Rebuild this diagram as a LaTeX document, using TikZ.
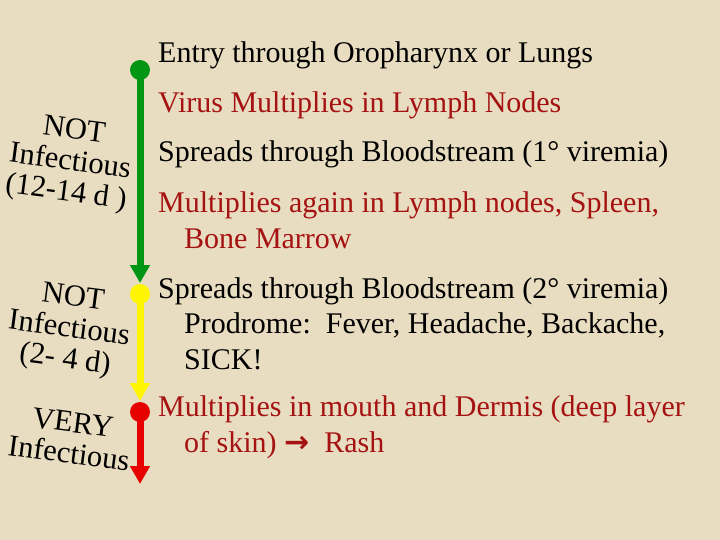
\documentclass[tikz,border=0pt]{standalone}
\usepackage{fontspec}
\setmainfont{Liberation Serif}
\newfontfamily\arrowfont{DejaVu Sans}
\usetikzlibrary{arrows.meta,positioning}
\definecolor{parchment}{RGB}{233,221,193}
\definecolor{darkred}{RGB}{165,18,18}
\definecolor{phasegreen}{RGB}{0,150,20}
\definecolor{phaseyellow}{RGB}{255,245,0}
\definecolor{phasered}{RGB}{230,0,0}
\tikzset{
	dot/.style = {circle, fill=#1, inner sep=0pt, minimum size=20pt},
	phase/.style = {draw=#1, line width=7pt, -{Triangle[length=18pt,width=19pt]}},
	event/.style = {anchor=base west, inner sep=0pt, align=left, font=\fontsize{30}{35.5}\selectfont},
	tag/.style = {rotate=-7.5, align=center, inner sep=0pt, font=\fontsize{30.5}{31}\selectfont},
	coord/.style = {coordinate}
}

\begin{document}
\begin{tikzpicture}[x=1pt,y=-1pt]
		\fill [parchment] (0,0) rectangle (720,540);
		\useasboundingbox (0,0) rectangle (720,540);
		% timeline
		\node [dot=phasegreen] (entry) at (140,70) {};
		\node [coord] (greenend) at (140,283) {};
		\node [dot=phaseyellow] (spread) at (140,294) {};
		\node [coord] (yellowend) at (140,401) {};
		\node [dot=phasered] (mouth) at (140,412) {};
		\node [coord] (redend) at (140,484) {};
		\draw [phase=phasegreen] (entry.center) -- (greenend);
		\draw [phase=phaseyellow] (spread.center) -- (yellowend);
		\draw [phase=phasered] (mouth.center) -- (redend);
		% events (base = last line)
		\node [event] (e1) at (158,63) {Entry through Oropharynx or Lungs};
		\node [event, darkred] (e2) at (158,113) {Virus Multiplies in Lymph Nodes};
		\node [event] (e3) at (158,162) {Spreads through Bloodstream (1\textdegree\ viremia)};
		\node [event, darkred] (e4) at (158,248) {Multiplies again in Lymph nodes, Spleen,\\\hspace*{26pt}Bone Marrow};
		\node [event] (e5) at (158,369) {Spreads through Bloodstream (2\textdegree\ viremia)\\\hspace*{26pt}Prodrome:\ \ Fever, Headache, Backache,\\\hspace*{26pt}SICK!};
		\node [event, darkred] (e6) at (158,452) {Multiplies in mouth and Dermis (deep layer\\\hspace*{26pt}of skin) {\arrowfont\bfseries →}\ \ Rash};
		% infectivity
		\node [tag] (t1) at (70,163) {NOT\\Infectious\\(12-14 d )};
		\node [tag] (t2) at (69,330) {NOT\\Infectious\\(2- 4 d)};
		\node [tag] (t3) at (71,438) {VERY\\Infectious};
\end{tikzpicture}
\end{document}
